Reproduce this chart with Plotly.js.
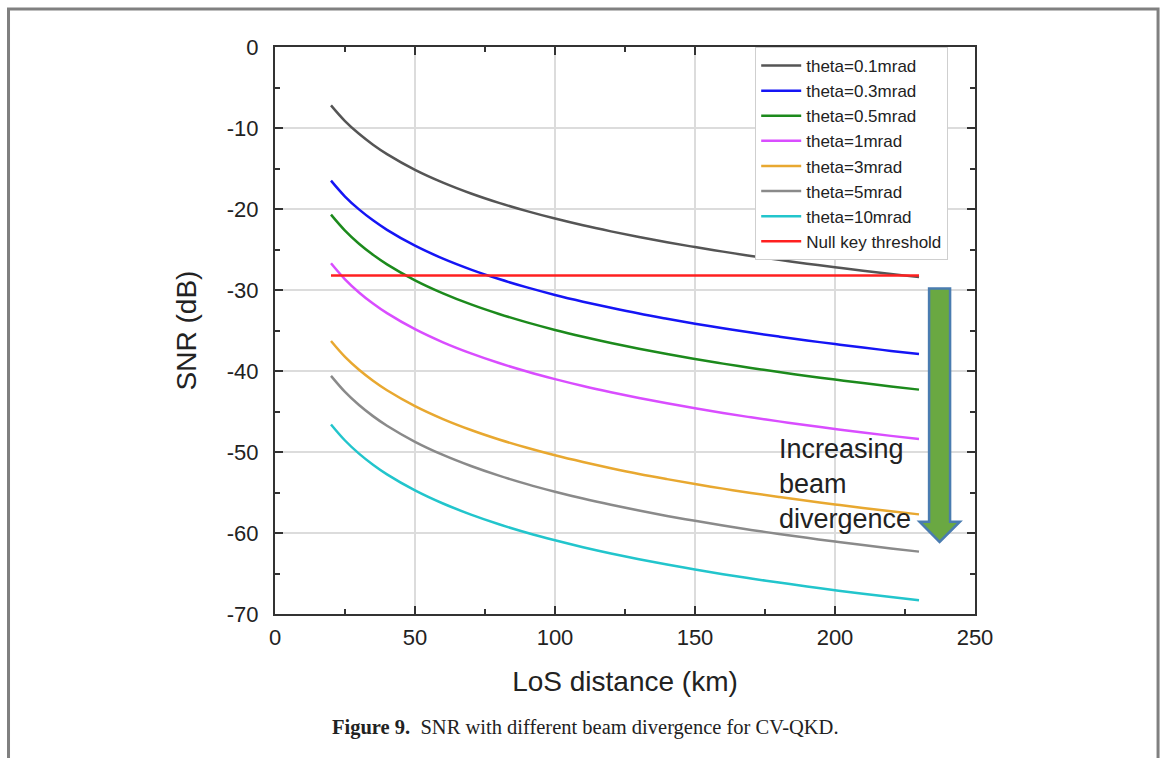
<!DOCTYPE html>
<html>
<head>
<meta charset="utf-8">
<script src="https://cdn.plot.ly/plotly-3.0.1.min.js"></script>
<style>html,body{margin:0;padding:0;background:#fff;}#chart{width:1165px;height:758px;}</style>
</head>
<body>
<div id="chart"></div>
<script>
// LoS distance (km)
const distance = [20,25,30,35,40,50,60,70,80,90,100,110,120,130,140,150,160,170,180,190,200,210,220,230];
// SNR (dB) per beam divergence
const snr_0_1 = [-7.20,-9.14,-10.72,-12.06,-13.22,-15.16,-16.74,-18.08,-19.24,-20.26,-21.18,-22.01,-22.76,-23.46,-24.10,-24.70,-25.26,-25.79,-26.28,-26.75,-27.20,-27.62,-28.03,-28.41];
const snr_0_3 = [-16.50,-18.46,-20.05,-21.40,-22.57,-24.53,-26.13,-27.48,-28.65,-29.68,-30.61,-31.44,-32.20,-32.91,-33.55,-34.16,-34.72,-35.26,-35.75,-36.23,-36.68,-37.10,-37.52,-37.90];
const snr_0_5 = [-20.70,-22.67,-24.29,-25.65,-26.83,-28.80,-30.41,-31.78,-32.96,-34.00,-34.93,-35.77,-36.54,-37.25,-37.91,-38.52,-39.09,-39.62,-40.13,-40.61,-41.06,-41.49,-41.90,-42.30];
const snr_1 = [-26.70,-28.68,-30.30,-31.67,-32.86,-34.84,-36.46,-37.83,-39.02,-40.07,-41.00,-41.85,-42.62,-43.33,-43.99,-44.60,-45.18,-45.72,-46.22,-46.70,-47.16,-47.59,-48.01,-48.40];
const snr_3 = [-36.30,-38.26,-39.85,-41.20,-42.37,-44.33,-45.93,-47.28,-48.45,-49.48,-50.41,-51.24,-52.00,-52.71,-53.35,-53.96,-54.52,-55.06,-55.55,-56.03,-56.48,-56.90,-57.32,-57.70];
const snr_5 = [-40.60,-42.58,-44.20,-45.57,-46.76,-48.74,-50.36,-51.73,-52.92,-53.97,-54.90,-55.75,-56.52,-57.23,-57.89,-58.50,-59.08,-59.62,-60.12,-60.60,-61.06,-61.49,-61.91,-62.30];
const snr_10 = [-46.60,-48.58,-50.20,-51.57,-52.76,-54.74,-56.36,-57.73,-58.92,-59.97,-60.90,-61.75,-62.52,-63.23,-63.89,-64.50,-65.08,-65.62,-66.12,-66.60,-67.06,-67.49,-67.91,-68.30];
// Null key threshold
const thresholdX = [20, 230];
const thresholdY = [-28.2, -28.2];

const seriesNames = ['theta=0.1mrad','theta=0.3mrad','theta=0.5mrad','theta=1mrad','theta=3mrad','theta=5mrad','theta=10mrad'];
const seriesValues = [snr_0_1, snr_0_3, snr_0_5, snr_1, snr_3, snr_5, snr_10];
const seriesColors = ['#555555','#1515f5','#1c8a1c','#d94dff','#e8a830','#8a8a8a','#22c5cc'];

// Tick labels (plain hyphen minus, as in the figure)
const yTickVals = [0,-10,-20,-30,-40,-50,-60,-70];
const yTickText = ['0','-10','-20','-30','-40','-50','-60','-70'];
const xTickVals = [0,50,100,150,200,250];
const xTickText = ['0','50','100','150','200','250'];

// Arrow (data coordinates)
const arrow = {shaftL: 233.6, shaftR: 241.1, headL: 230.2, headR: 244.6, top: -29.8, headTop: -58.6, tip: -61.1};

const traces = seriesNames.map((n, i) => ({
  x: distance, y: seriesValues[i], name: n, type: 'scatter', mode: 'lines',
  line: {color: seriesColors[i], width: 2.5, shape: 'spline', smoothing: 1}
}));
traces.push({x: thresholdX, y: thresholdY, name: 'Null key threshold', type: 'scatter', mode: 'lines',
  line: {color: '#ff2020', width: 2.5}});

const cx = (arrow.shaftL + arrow.shaftR) / 2;
const arrowPath = `M ${arrow.shaftL},${arrow.top} L ${arrow.shaftR},${arrow.top} L ${arrow.shaftR},${arrow.headTop} L ${arrow.headR},${arrow.headTop} L ${cx},${arrow.tip} L ${arrow.headL},${arrow.headTop} L ${arrow.shaftL},${arrow.headTop} Z`;

const font = 'Liberation Sans, Arial, sans-serif';
const layout = {
  width: 1165, height: 758,
  margin: {l: 275, r: 190, t: 47, b: 144},
  paper_bgcolor: '#fff', plot_bgcolor: '#fff',
  showlegend: true,
  font: {family: font, color: '#222'},
  xaxis: {
    range: [0, 250], tickmode: 'array', tickvals: xTickVals, ticktext: xTickText,
    ticks: 'inside', ticklen: 8, tickwidth: 2, tickcolor: '#333',
    showline: true, linewidth: 2, linecolor: '#333', mirror: 'ticks',
    showgrid: true, gridcolor: '#dcdcdc', gridwidth: 1.5, zeroline: false,
    minor: {dtick: 25, tick0: 0, ticks: 'inside', ticklen: 5, tickwidth: 2, tickcolor: '#333', showgrid: false},
    tickfont: {size: 22, family: font, color: '#222'}, ticklabelstandoff: 3,
    title: {text: 'LoS distance (km)', font: {size: 28, family: font, color: '#222'}, standoff: 22},
    automargin: false
  },
  yaxis: {
    range: [-70, 0], tickmode: 'array', tickvals: yTickVals, ticktext: yTickText,
    ticks: 'inside', ticklen: 8, tickwidth: 2, tickcolor: '#333',
    showline: true, linewidth: 2, linecolor: '#333', mirror: 'ticks',
    showgrid: true, gridcolor: '#dcdcdc', gridwidth: 1.5, zeroline: false,
    minor: {dtick: 5, tick0: 0, ticks: 'inside', ticklen: 5, tickwidth: 2, tickcolor: '#333', showgrid: false},
    tickfont: {size: 22, family: font, color: '#222'}, ticklabelstandoff: 10,
    title: {text: 'SNR (dB)', font: {size: 28, family: font, color: '#222'}, standoff: 22},
    automargin: false
  },
  legend: {
    x: 0.686, y: 1.0, xanchor: 'left', yanchor: 'top',
    bgcolor: '#fff', bordercolor: '#cfcfcf', borderwidth: 1,
    font: {size: 17, family: font, color: '#222'},
    tracegroupgap: 0, itemwidth: 40
  },
  shapes: [
    {type: 'path', xref: 'x', yref: 'y', path: arrowPath, fillcolor: '#6aa842',
     line: {color: '#4a7cb0', width: 2.5}, layer: 'above'},
    {type: 'rect', xref: 'paper', yref: 'paper', x0: -0.3807, x1: 1.2615, y0: -0.4, y1: 1.0670,
     line: {color: '#808080', width: 3}, fillcolor: 'rgba(0,0,0,0)', layer: 'below'}
  ],
  annotations: [
    {xref: 'x', yref: 'y', x: 179.3, y: -53.9, xanchor: 'left', yanchor: 'middle', align: 'left',
     text: 'Increasing<br>beam<br>divergence', showarrow: false,
     font: {size: 27, family: font, color: '#222'}},
    {xref: 'paper', yref: 'paper', x: 0.443, y: -0.201, xanchor: 'center', yanchor: 'middle',
     text: '<b>Figure 9.</b>  SNR with different beam divergence for CV-QKD.', showarrow: false,
     font: {size: 20.5, family: 'Liberation Serif, Times New Roman, serif', color: '#222'}}
  ]
};

Plotly.newPlot('chart', traces, layout, {displayModeBar: false, staticPlot: true});
</script>
</body>
</html>
